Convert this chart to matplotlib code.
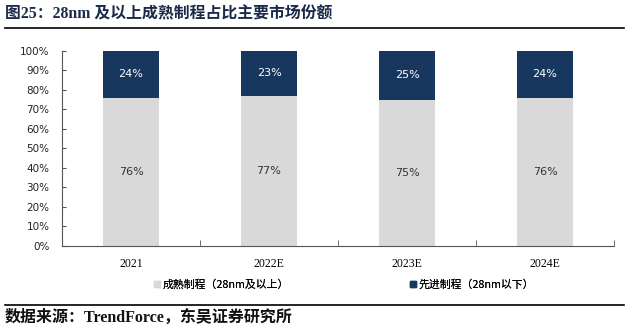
import numpy as np
import matplotlib
matplotlib.use('Agg')
import matplotlib.pyplot as plt
from matplotlib.lines import Line2D

years = ["2021", "2022E", "2023E", "2024E"]
mature = [76, 77, 75, 76]     # 28nm and above
advanced = [24, 23, 25, 24]   # below 28nm

c_mature = "#D9D9D9"
c_adv = "#17375E"
cjk = ["Noto Sans CJK SC", "DejaVu Sans"]

fig = plt.figure(figsize=(6.27, 3.26), dpi=100)
ax = fig.add_axes([0.0989, 0.2454, 0.8804, 0.5982])

x = np.arange(len(years))
w = 0.41
ax.bar(x, mature, w, color=c_mature)
ax.bar(x, advanced, w, bottom=mature, color=c_adv)

for i in range(len(years)):
    ax.text(x[i], mature[i] / 2, f"{mature[i]}%", ha="center", va="center",
            fontsize=8, color="#333333", family="DejaVu Sans")
    ax.text(x[i], mature[i] + advanced[i] / 2, f"{advanced[i]}%", ha="center",
            va="center", fontsize=8, color="white", family="DejaVu Sans")

ax.set_xlim(-0.5, len(years) - 0.5)
ax.set_ylim(0, 100)
ax.set_yticks(np.arange(0, 101, 10))
ax.set_yticklabels([f"{v}%" for v in range(0, 101, 10)], fontsize=7.5,
                   family="DejaVu Sans", color="#222222")
ax.set_xticks(x)
ax.set_xticklabels(years, fontsize=8.5, family="Liberation Serif", color="black")
ax.tick_params(axis="x", length=0, pad=9)
ax.set_xticks(np.arange(-0.5, len(years)), minor=True)
ax.tick_params(axis="x", which="minor", length=4, direction="in", color="#555555")
ax.tick_params(axis="y", length=3, direction="in", color="#555555", pad=9)
for s in ["top", "right"]:
    ax.spines[s].set_visible(False)
for s in ["left", "bottom"]:
    ax.spines[s].set_color("#555555")
    ax.spines[s].set_linewidth(0.8)

# legend, one entry per series
labels = ["成熟制程（28nm及以上）", "先进制程（28nm以下）"]
colors = [c_mature, c_adv]
anchors = [0.243, 0.652]
for lab, col, xa in zip(labels, colors, anchors):
    h = Line2D([], [], marker="s", ls="", color=col, markersize=5)
    fig.add_artist(fig.legend([h], [lab], loc="center left",
                              bbox_to_anchor=(xa, 0.128), frameon=False,
                              handletextpad=0.1, handlelength=0.8,
                              borderaxespad=0, borderpad=0,
                              prop={"family": cjk, "size": 7.8}))

# title and source with rules
serif_cjk = ["Liberation Serif", "Noto Sans CJK SC"]
fig.text(0.008, 0.955, "图25：28nm 及以上成熟制程占比主要市场份额", ha="left", va="center",
         fontsize=11.4, fontweight="bold", color="#1B2A48", family=serif_cjk)
fig.add_artist(Line2D([0.008, 0.995], [0.913, 0.913], color="black", lw=1.2))
fig.add_artist(Line2D([0.008, 0.995], [0.064, 0.064], color="black", lw=1.2))
fig.text(0.008, 0.025, "数据来源：TrendForce，东吴证券研究所", ha="left", va="center",
         fontsize=11.5, fontweight="bold", color="#111111", family=serif_cjk)

fig.savefig("out.png", dpi=100)
